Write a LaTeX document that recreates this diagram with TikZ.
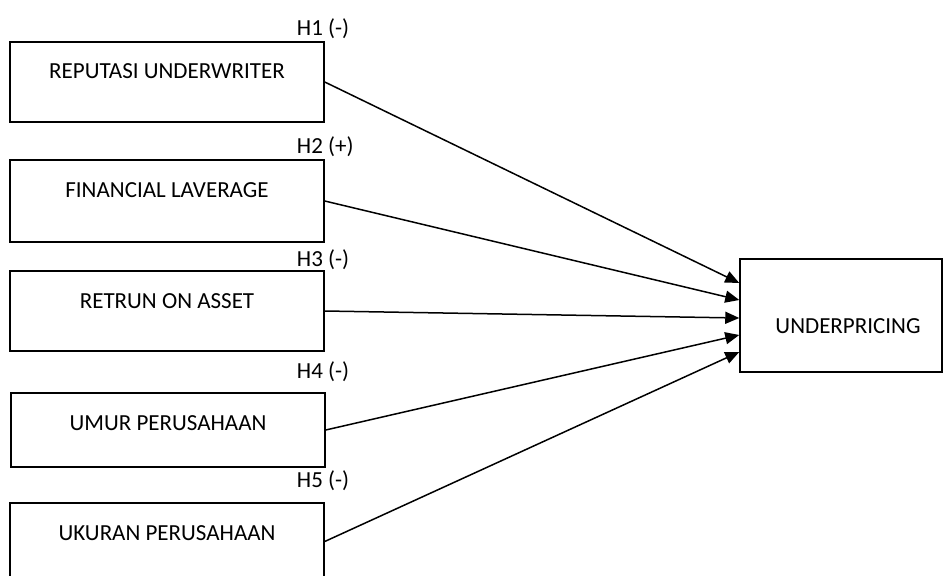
\documentclass[tikz,border=0pt]{standalone}
\usepackage{fontspec}
\setmainfont{Carlito}
\usetikzlibrary{arrows.meta}
\begin{document}
\begin{tikzpicture}[x=1pt,y=-1pt,
box/.style={draw,line width=1.5pt,minimum width=314pt,inner xsep=0pt,inner ysep=0pt,text height=37pt,font=\fontsize{23}{27}\selectfont},
hyp/.style={anchor=base west,inner sep=0pt,font=\fontsize{23}{27}\selectfont},
link/.style={line width=1.5pt,-{Triangle[length=14pt,width=12pt]}}]
\clip(0,0)rectangle(944,575);
\node[box,text depth=43pt](ru)at(167,82){REPUTASI UNDERWRITER};
\node[box,text depth=45pt](fl)at(167,201){FINANCIAL LAVERAGE};
\node[box,text depth=43pt](roa)at(167,311){RETRUN ON ASSET};
\node[box,text depth=37pt](up)at(168,430){UMUR PERUSAHAAN};
\node[box,text depth=40pt](uk)at(167,541.5){UKURAN PERUSAHAAN};
\node[box,minimum width=202pt,text height=74pt,text depth=39pt](und)at(841,315.5){\hspace*{14pt}UNDERPRICING};
\node[hyp](h1)at([xshift=-28pt,yshift=6pt]ru.north east){H1 (-)};
\node[hyp](h2)at([xshift=-28pt,yshift=6pt]fl.north east){H2 (+)};
\node[hyp](h3)at([xshift=-28pt,yshift=4pt]roa.north east){H3 (-)};
\node[hyp](h4)at([xshift=-29pt,yshift=14pt]up.north east){H4 (-)};
\node[hyp](h5)at([xshift=-28pt,yshift=15pt]uk.north east){H5 (-)};
\draw[link](ru.east)--([yshift=32.5pt]und.west);
\draw[link](fl.east)--([yshift=15.5pt]und.west);
\draw[link](roa.east)--([yshift=-2.5pt]und.west);
\draw[link](up.east)--([yshift=-19.5pt]und.west);
\draw[link](uk.east)--([yshift=-36.5pt]und.west);
\end{tikzpicture}
\end{document}
